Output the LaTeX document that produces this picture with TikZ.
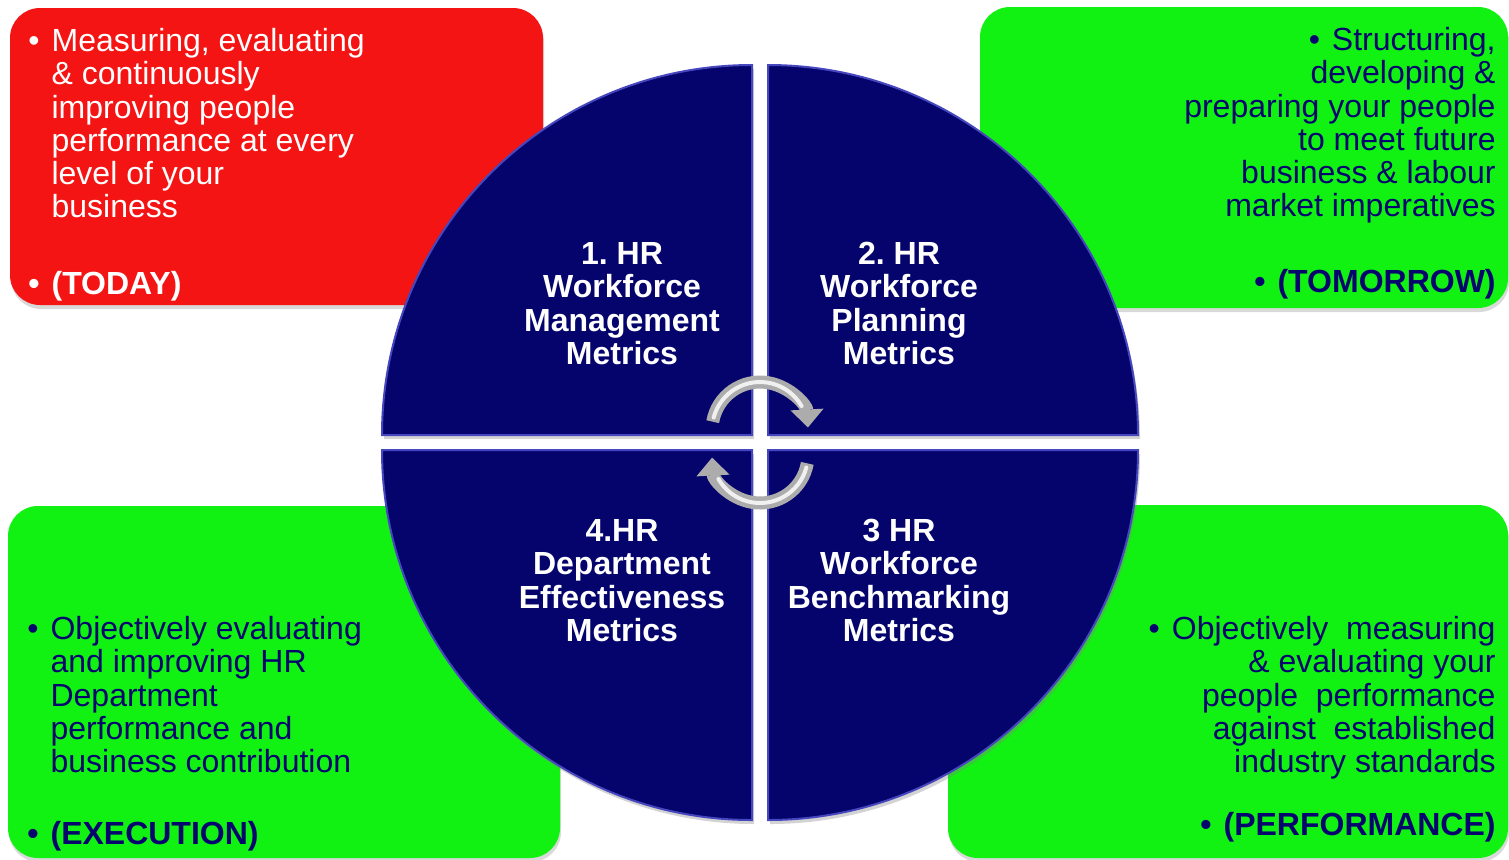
\documentclass[tikz,border=0pt]{standalone}
\usepackage{fontspec}
\setmainfont{Liberation Sans}
\usetikzlibrary{arrows.meta,shadows}

\definecolor{boxred}{RGB}{244,20,20}
\definecolor{boxgreen}{RGB}{18,242,18}
\definecolor{navy}{RGB}{5,5,110}
\definecolor{quadblue}{RGB}{4,4,108}
\definecolor{quadedge}{RGB}{70,70,190}

\tikzset{
  card/.style={rounded corners=15pt,
    drop shadow={shadow xshift=0.5pt, shadow yshift=-2pt, opacity=0.3}},
  quad/.style={fill=quadblue, draw=quadedge, line width=1pt,
    drop shadow={shadow xshift=1pt, shadow yshift=-2pt, opacity=0.35}},
  notebox/.style={inner sep=0pt, font=\fontsize{16}{16.6}\selectfont},
  tagline/.style={inner sep=0pt, font=\fontsize{16}{16.6}\selectfont\bfseries},
  metric/.style={inner sep=0pt, text=white, font=\fontsize{16}{16.6}\selectfont\bfseries},
  cyclearrow/.style={line width=6.5pt, draw=gray!65, -{Triangle[width=16pt,length=9pt]}},
  shine/.style={line width=2pt, draw=gray!12, line cap=round},
}

\begin{document}
\begin{tikzpicture}[x=0.5pt, y=-0.5pt]
    \useasboundingbox (0,0) rectangle (1509,859);

    % Boxes
    \path[card, fill=boxred]   (10,8)   rectangle (543,305);
    \path[card, fill=boxgreen] (980,7)  rectangle (1508,308);
    \path[card, fill=boxgreen] (8,506)  rectangle (560,858);
    \path[card, fill=boxgreen] (948,505) rectangle (1508,858);

    % Quadrants of the wheel
    \path[quad] (752,435) -- (382,435) arc[start angle=180, end angle=270, radius=370] -- cycle;
    \path[quad] (768,435) -- (1138,435) arc[start angle=0, end angle=-90, radius=370] -- cycle;
    \path[quad] (752,450) -- (382,450) arc[start angle=180, end angle=90, radius=370] -- cycle;
    \path[quad] (768,450) -- (1138,450) arc[start angle=0, end angle=90, radius=370] -- cycle;

    % Cycle arrows
    \draw[cyclearrow] (760,430) ++(190:48) arc[start angle=190, end angle=357, radius=48];
    \draw[shine] (760,430) ++(195:48) arc[start angle=195, end angle=330, radius=48];
    \draw[cyclearrow] (760,455) ++(10:48) arc[start angle=10, end angle=177, radius=48];
    \draw[shine] (760,455) ++(15:48) arc[start angle=15, end angle=150, radius=48];

    % Metric labels
    \node[metric, anchor=north] (m1) at (622,241)
        {\begin{tabular}{@{}c@{}}1.\ HR\\ Workforce\\ Management\\ Metrics\end{tabular}};
    \node[metric, anchor=north] (m2) at (899,241)
        {\begin{tabular}{@{}c@{}}2.\ HR\\ Workforce\\ Planning\\ Metrics\end{tabular}};
    \node[metric, anchor=north] (m3) at (899,518)
        {\begin{tabular}{@{}c@{}}3 HR\\ Workforce\\ Benchmarking\\ Metrics\end{tabular}};
    \node[metric, anchor=north] (m4) at (622,518)
        {\begin{tabular}{@{}c@{}}4.HR\\ Department\\ Effectiveness\\ Metrics\end{tabular}};

    % Box texts
    \node[notebox, text=white, anchor=north west] (today text) at (28,28)
        {\begin{tabular}{@{}l@{\hspace{6pt}}l@{}}
         \textbullet & Measuring, evaluating\\
                     & \& continuously\\
                     & improving people\\
                     & performance at every\\
                     & level of your\\
                     & business
         \end{tabular}};
    \node[tagline, text=white, anchor=north west] (today) at (28,271)
        {\textbullet\hspace{6pt}(TODAY)};

    \node[notebox, text=navy, anchor=north east] (tomorrow text) at (1496,27)
        {\begin{tabular}{@{}r@{}}
         \textbullet\hspace{6pt}Structuring,\\
         developing \&\\
         preparing your people\\
         to meet future\\
         business \& labour\\
         market imperatives
         \end{tabular}};
    \node[tagline, text=navy, anchor=north east] (tomorrow) at (1496,269)
        {\textbullet\hspace{6pt}(TOMORROW)};

    \node[notebox, text=navy, anchor=north west] (execution text) at (27,616)
        {\begin{tabular}{@{}l@{\hspace{6pt}}l@{}}
         \textbullet & Objectively evaluating\\
                     & and improving HR\\
                     & Department\\
                     & performance and\\
                     & business contribution
         \end{tabular}};
    \node[tagline, text=navy, anchor=north west] (execution) at (27,821)
        {\textbullet\hspace{6pt}(EXECUTION)};

    \node[notebox, text=navy, anchor=north east] (performance text) at (1496,616)
        {\begin{tabular}{@{}r@{}}
         \textbullet\hspace{6pt}Objectively\ \ measuring\\
         \& evaluating your\\
         people\ \ performance\\
         against\ \ established\\
         industry standards
         \end{tabular}};
    \node[tagline, text=navy, anchor=north east] (performance) at (1496,812)
        {\textbullet\hspace{6pt}(PERFORMANCE)};
\end{tikzpicture}
\end{document}
